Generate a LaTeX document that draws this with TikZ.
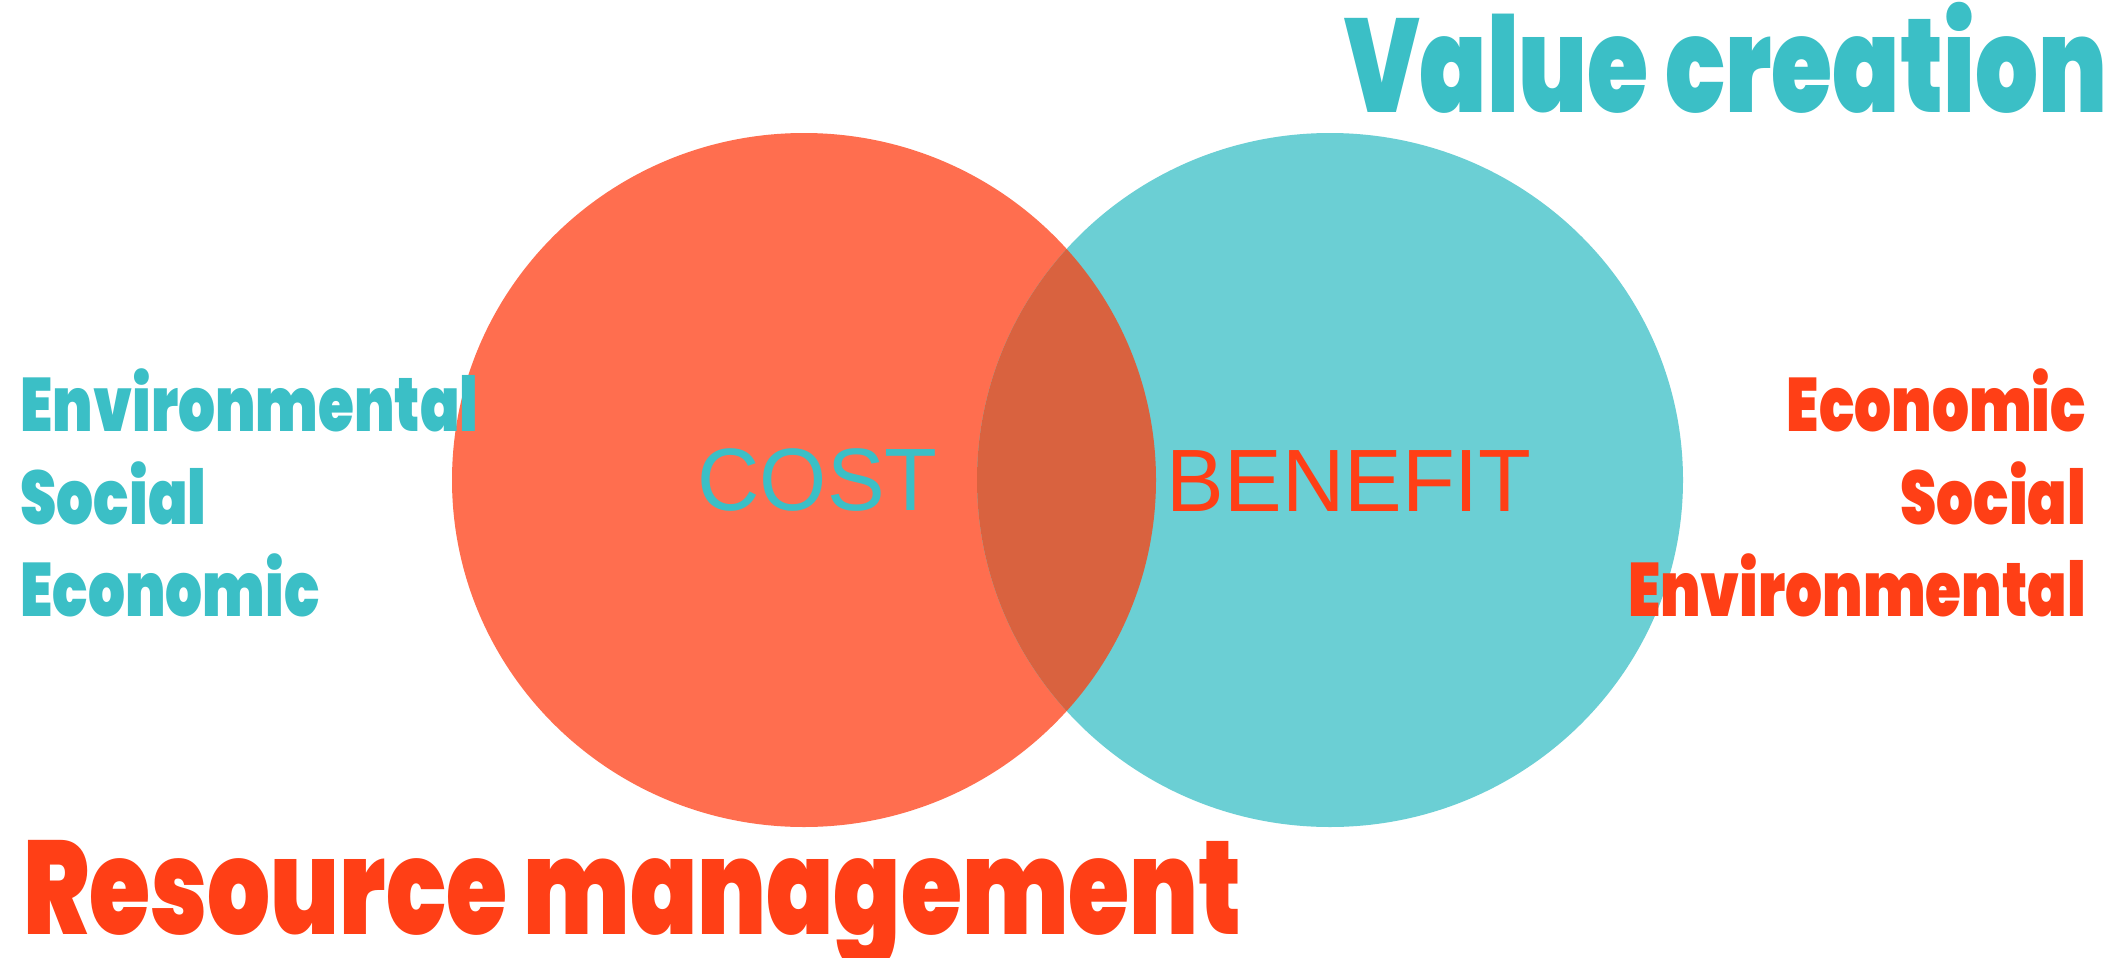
\documentclass[tikz,border=0pt]{standalone}
\usepackage{fontspec}
\setmainfont{Liberation Sans}
\IfFontExistsTF{Poppins Black}{\newfontfamily\hvyfam{Poppins Black}\newcommand\hvy{\hvyfam}}{%
  \IfFontExistsTF{Poppins ExtraBold}{\newfontfamily\hvyfam{Poppins ExtraBold}\newcommand\hvy{\hvyfam}}{%
    \newfontfamily\hvyfam{Poppins}\newcommand\hvy{\hvyfam\bfseries}}}
\definecolor{coralc}{HTML}{FF6E4F}
\definecolor{tealc}{HTML}{6BCFD4}
\definecolor{lensc}{HTML}{D9623F}
\definecolor{tealtxt}{HTML}{3BBFC6}
\definecolor{redtxt}{HTML}{FF3F16}
\newdimen\wRM \newdimen\hRR \newdimen\wEnv
\newsavebox\mybox
\AtBeginDocument{%
  \sbox\mybox{\hvy Resource management}\global\wRM=\wd\mybox\relax
  \sbox\mybox{\hvy R}\global\hRR=\ht\mybox\relax
  \sbox\mybox{\hvy Environmental}\global\wEnv=\wd\mybox\relax
  \ifdim\wRM<1pt \global\wRM=600pt\relax\fi
  \ifdim\hRR<1pt \global\hRR=7pt\relax\fi
  \ifdim\wEnv<1pt \global\wEnv=300pt\relax\fi
}
\begin{document}
\begin{tikzpicture}[x=0.5pt,y=-0.5pt,
  lbl/.style={inner sep=0pt, outer sep=0pt},
  tealword/.style={lbl, text=tealtxt},
  redword/.style={lbl, text=redtxt}]
\pgfmathsetmacro\sxA{(1218*0.5)/\wRM}
\pgfmathsetmacro\syA{0.958*(98.3*0.5)/\hRR}
\pgfmathsetmacro\sxB{(458*0.5)/\wEnv}
\pgfmathsetmacro\syB{\syA*56/98.3}
\useasboundingbox (0,0) rectangle (2126,958);
\fill[white] (0,0) rectangle (2126,958);
% circles
\fill[coralc] (804,480) ellipse [x radius=352, y radius=347];
\fill[tealc] (1330,480) ellipse [x radius=353, y radius=347];
\begin{scope}
  \clip (804,480) ellipse [x radius=352, y radius=347];
  \fill[lensc] (1330,480) ellipse [x radius=353, y radius=347];
\end{scope}
% centre words
\node[lbl, text=tealtxt, anchor=base] (cost) at (817.5,510.7)
  {\scalebox{0.975}[1]{\fontsize{44.3}{44.3}\selectfont COST}};
\node[lbl, text=redtxt, anchor=base] (benefit) at (1349.2,511)
  {\scalebox{0.975}[1]{\fontsize{44.3}{44.3}\selectfont BENEFIT}};
% titles
\node[lbl, text=tealtxt, anchor=base east] (value) at (2107,112)
  {\scalebox{\sxA}[\syA]{\hvy Value creation}};
\node[lbl, text=redtxt, anchor=base west] (resource) at (23.5,934)
  {\scalebox{\sxA}[\syA]{\hvy Resource management}};
% left list
\node[tealword, anchor=base west] (lenv) at (20.5,431) {\scalebox{\sxB}[\syB]{\hvy Environmental}};
\node[tealword, anchor=base west] (lsoc) at (20.5,524) {\scalebox{\sxB}[\syB]{\hvy Social}};
\node[tealword, anchor=base west] (leco) at (20.5,616) {\scalebox{\sxB}[\syB]{\hvy Economic}};
% right list
\node[redword, anchor=base east] (reco) at (2086,431) {\scalebox{\sxB}[\syB]{\hvy Economic}};
\node[redword, anchor=base east] (rsoc) at (2086,524) {\scalebox{\sxB}[\syB]{\hvy Social}};
\node[redword, anchor=base east] (renv) at (2086,616) {\scalebox{\sxB}[\syB]{\hvy Environmental}};
\end{tikzpicture}
\end{document}
